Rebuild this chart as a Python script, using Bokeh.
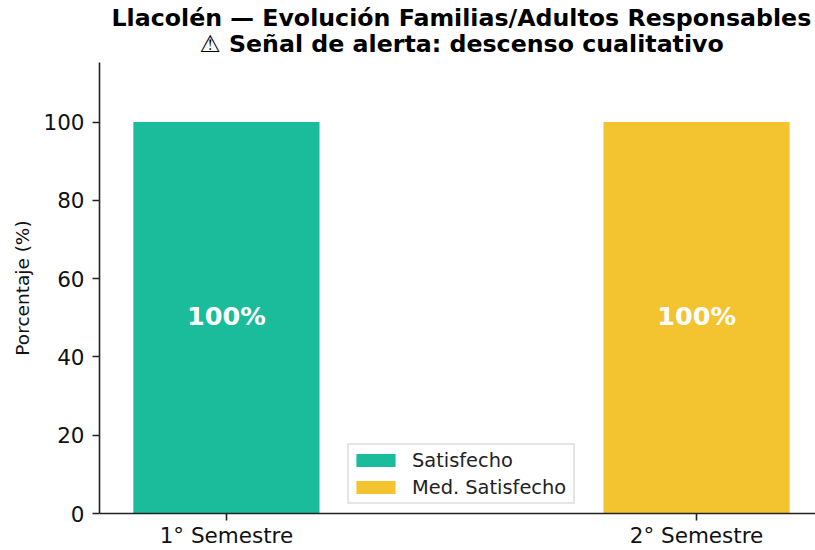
from bokeh.plotting import figure
from bokeh.embed import file_html
from bokeh.resources import INLINE
from bokeh.models import ColumnDataSource, Legend, LegendItem, Range1d, Title, FixedTicker
from bokeh.core.properties import value

categories = ["1° Semestre", "2° Semestre"]
positions = [0, 1]
satisfecho = [100, 0]
med_satisfecho = [0, 100]
bar_labels = ["100%", "100%"]
label_y = [50, 50]
y_ticks = [0, 20, 40, 60, 80, 100]
title_1 = "Llacolén — Evolución Familias/Adultos Responsables"
title_2 = "⚠ Señal de alerta: descenso cualitativo"
FONT = "DejaVu Sans"

p = figure(width=815, height=550, output_backend="svg", toolbar_location=None,
           x_range=Range1d(-0.27, 1.253), y_range=Range1d(0, 115.2),
           min_border_left=99, min_border_right=0, min_border_top=62, min_border_bottom=37)
p.outline_line_color = None
p.grid.visible = False
p.background_fill_color = "white"

src = ColumnDataSource(dict(x=positions, a=satisfecho, b=med_satisfecho, t=bar_labels, y=label_y))
r1 = p.vbar(x="x", top="a", bottom=0, width=0.396, color="#1ABC9C", source=src, line_color=None)
r2 = p.vbar(x="x", top="b", bottom=0, width=0.396, color="#F4C430", source=src, line_color=None)
p.text(x="x", y="y", text="t", source=src, text_color="white", text_font=value(FONT),
       text_font_style="bold", text_font_size="25.5px", text_align="center", text_baseline="middle",
       y_offset=-2)

p.xaxis.ticker = FixedTicker(ticks=positions)
p.xaxis.major_label_overrides = {k: v for k, v in zip(positions, categories)}
p.yaxis.ticker = FixedTicker(ticks=y_ticks)
for ax in (p.xaxis[0], p.yaxis[0]):
    ax.axis_line_color = "#222222"
    ax.axis_line_width = 1.6
    ax.major_tick_line_color = "#222222"
    ax.major_tick_line_width = 1.6
    ax.major_tick_out = 7
    ax.major_tick_in = 0
    ax.minor_tick_line_color = None
    ax.major_label_text_font = FONT
    ax.major_label_text_font_size = "21.5px"
    ax.major_label_text_color = "#111111"
p.xaxis.major_label_standoff = 2
p.yaxis.major_label_standoff = 8
p.yaxis.axis_label = "Porcentaje (%)"
p.yaxis.axis_label_text_font = FONT
p.yaxis.axis_label_text_font_style = "normal"
p.yaxis.axis_label_text_font_size = "18.5px"
p.yaxis.axis_label_text_color = "#111111"
p.yaxis.axis_label_standoff = 7

legend = Legend(items=[LegendItem(label="Satisfecho", renderers=[r1]),
                       LegendItem(label="Med. Satisfecho", renderers=[r2])],
                location=(248, 9), orientation="vertical",
                glyph_width=49, glyph_height=16, label_standoff=12, spacing=1,
                label_height=26, label_width=159, padding=2, margin=0,
                label_text_font=FONT, label_text_font_size="19.4px", label_text_color="#222222",
                border_line_color="#cccccc", border_line_width=2, background_fill_alpha=0.9)
p.add_layout(legend, "center")

t2 = Title(text=title_2, align="left", offset=100, text_font=FONT, text_font_style="bold",
           text_font_size="23.7px", text_color="black", standoff=10)
t1 = Title(text=title_1, align="left", offset=12, text_font=FONT, text_font_style="bold",
           text_font_size="23.7px", text_color="black", standoff=-18)
p.add_layout(t2, "above")
p.add_layout(t1, "above")

open("out.html", "w").write(file_html(p, INLINE))
